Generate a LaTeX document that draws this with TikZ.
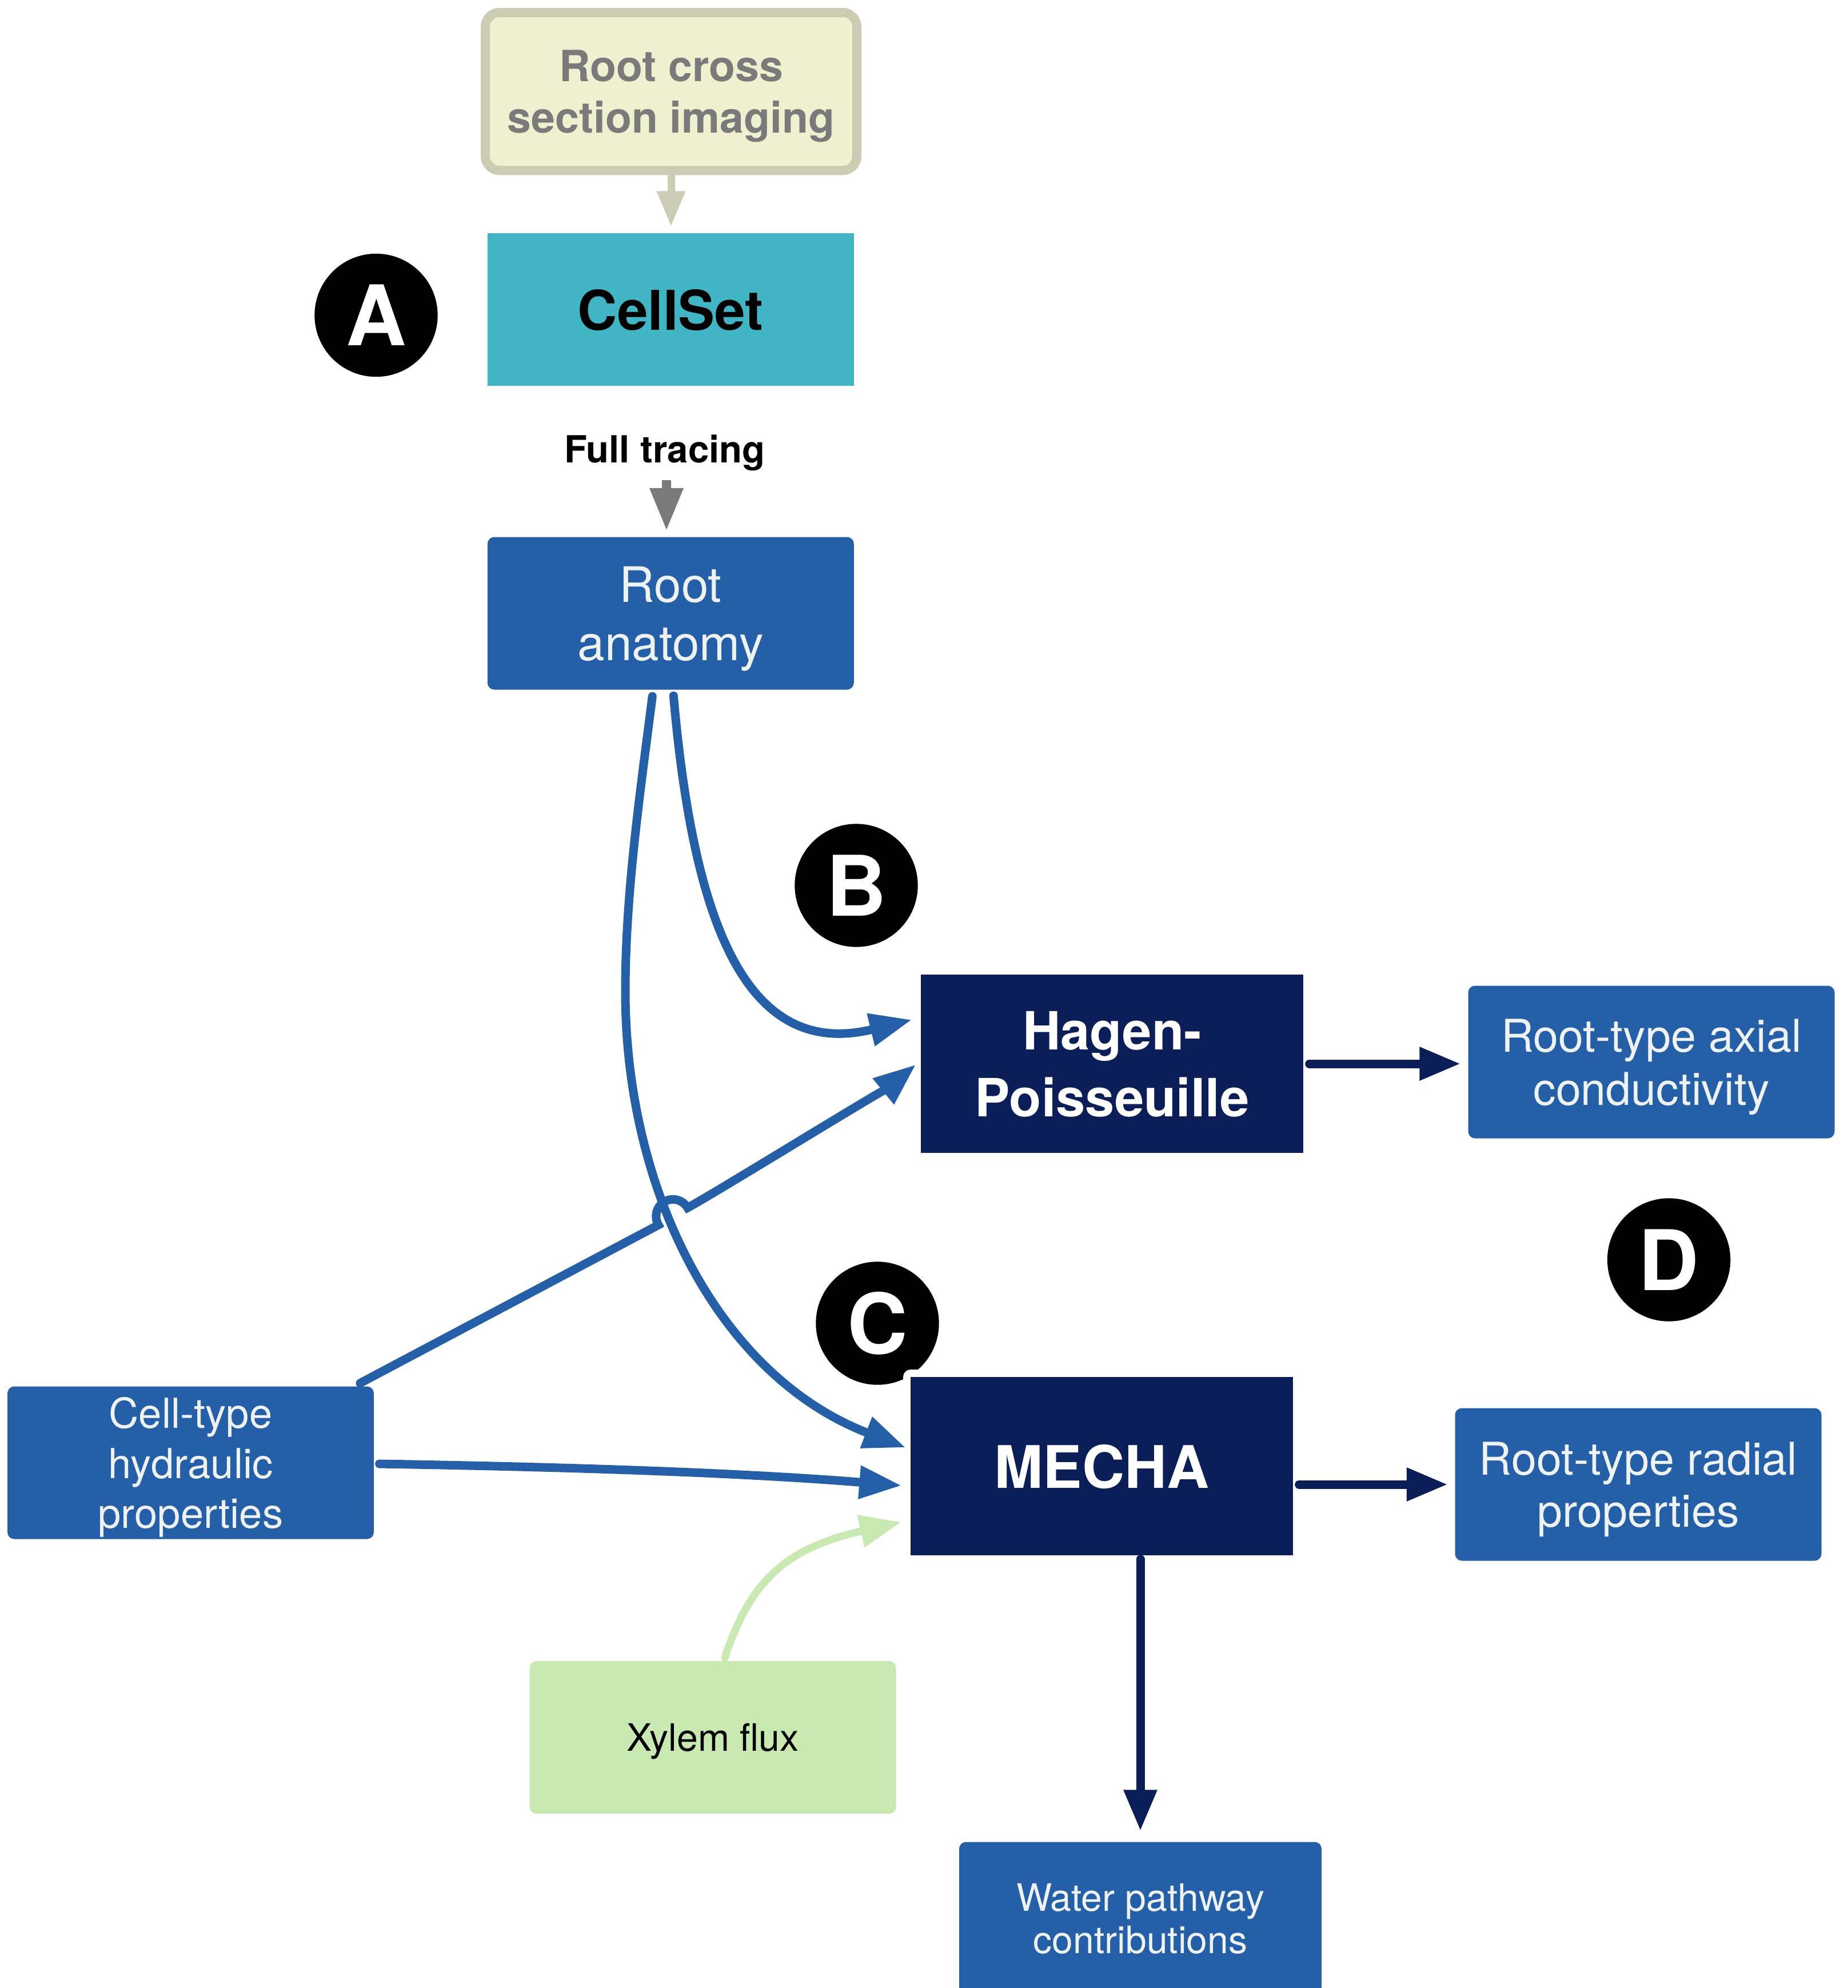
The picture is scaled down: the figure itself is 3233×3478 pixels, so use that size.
\documentclass[tikz,border=0pt]{standalone}
\usepackage{fontspec}
\setmainfont{TeX Gyre Heros}
\usetikzlibrary{arrows.meta,calc}

\definecolor{beigefill}{RGB}{239,240,207}
\definecolor{beigeline}{RGB}{204,204,180}
\definecolor{greytext}{RGB}{122,122,122}
\definecolor{cellteal}{RGB}{66,181,197}
\definecolor{midblue}{RGB}{36,95,168}
\definecolor{darknavy}{RGB}{11,30,88}
\definecolor{paletext}{RGB}{238,242,242}
\definecolor{leafgreen}{RGB}{201,233,179}

\begin{document}
\begin{tikzpicture}[x=0.1mm,y=-0.1mm,
  box/.style={inner sep=0pt, align=center, text depth=0pt,
    minimum width=64.1mm, minimum height=26.7mm},
  bluebox/.style={box, fill=midblue, text=paletext, rounded corners=1.2mm},
  navybox/.style={box, fill=darknavy, text=white, minimum width=66.9mm, minimum height=31.2mm},
  badge/.style={circle, fill=black, text=white, minimum size=21.54mm, inner sep=0pt,
    font=\fontsize{41.6}{42}\selectfont\bfseries},
  bluearrow/.style={draw=midblue, line width=1.5mm, line cap=round,
    -{Triangle[length=7.4mm,width=5.5mm]}},
  navyarrow/.style={draw=darknavy, line width=1.5mm, line cap=round,
    -{Triangle[length=7.2mm,width=5.5mm]}},
  greenarrow/.style={draw=leafgreen, line width=1.3mm, line cap=round,
    -{Triangle[length=7.2mm,width=5.5mm]}},
]
\useasboundingbox (0,0) rectangle (3233,3478);

% panel badges
\node[badge] (badgeA) at (658,551.5) {A};
\node[badge] (badgeB) at (1498,1549) {B};
\node[badge] (badgeC) at (1535,2315) {C};
\node[badge] (badgeD) at (2919.6,2204) {D};

% boxes
\node[box, fill=beigefill, draw=beigeline, line width=1.6mm, rounded corners=2.5mm,
      minimum width=65mm, minimum height=27.65mm, text=greytext,
      font=\fontsize{21.4}{25.6}\selectfont\bfseries] (rootcross) at (1174,160)
      {Root cross\\section imaging};
\node[box, fill=cellteal, text=black, font=\fontsize{27.3}{30}\selectfont\bfseries]
      (cellset) at (1173.3,541.5) {CellSet};
\node[bluebox, font=\fontsize{24.3}{29}\selectfont] (anatomy) at (1173.3,1073)
      {Root\\anatomy};
\node[navybox, font=\fontsize{26.2}{33.3}\selectfont\bfseries] (hagen) at (1945.5,1861)
      {Hagen-\\Poisseuille};
\node[bluebox, font=\fontsize{22.5}{26.5}\selectfont] (axial) at (2889,1858)
      {Root-type axial\\conductivity};
\node[navybox, font=\fontsize{29.2}{30}\selectfont\bfseries,
      preaction={draw=white, line width=2.6mm, line join=round}] (mecha) at (1927.5,2565)
      {MECHA};
\node[bluebox, font=\fontsize{22.5}{25.9}\selectfont] (radial) at (2866,2597)
      {Root-type radial\\properties};
\node[bluebox, font=\fontsize{20.6}{24.8}\selectfont] (celltype) at (333.5,2559)
      {Cell-type\\hydraulic\\properties};
\node[box, fill=leafgreen, text=black, rounded corners=1.2mm,
      font=\fontsize{18.8}{22}\selectfont] (xylem) at (1247,3039.5) {Xylem flux};
\node[bluebox, minimum width=63.4mm, font=\fontsize{18.8}{21}\selectfont] (water) at (1995,3356)
      {Water pathway\\contributions};

% imaging to CellSet
\draw[draw=beigeline, line width=1.3mm, -{Triangle[length=6.2mm,width=4.7mm]},
      shorten >=1.1mm] (rootcross.south) -- (rootcross.south |- cellset.north);

% tracing step
\node[anchor=base, inner sep=0pt, font=\fontsize{18.6}{20}\selectfont\bfseries]
      (tracelabel) at (1163,809) {Full tracing};
\coordinate (tracestart) at (1166,840);
\draw[draw=greytext, line width=1.6mm, -{Triangle[length=7.5mm,width=5.5mm]},
      shorten >=1mm] (tracestart) -- (tracestart |- anatomy.north);

% anatomy to Hagen-Poisseuille
\draw[bluearrow] ([shift={(5,10)}]anatomy.south)
  .. controls (1213,1614) and (1305,1855) .. ([shift={(-15,-77)}]hagen.west);

% anatomy to MECHA
\coordinate (bend) at (1094,1734);
\draw[bluearrow] ([shift={(-32,11)}]anatomy.south)
  .. controls (1120,1386) and (1094,1564) .. (bend)
  .. controls (1094,2084) and (1258,2407) .. ([shift={(-8,-32.5)}]mecha.west);

% cell-type properties to Hagen-Poisseuille, hopping over the curve
\coordinate (hopstart) at (1152,2143);
\draw[bluearrow] ([shift={(296.5,-5)}]celltype.north) -- (hopstart)
  arc[start angle=149, end angle=330, radius=29.5]
  .. controls (1247,2089.5) and (1564,1894) .. ([shift={(-8,1.5)}]hagen.west);

% cell-type properties to MECHA
\draw[bluearrow] ([shift={(9,2)}]celltype.east)
  .. controls (963,2566) and (1278,2575) .. ([shift={(-15,34)}]mecha.west);

% xylem flux to MECHA
\draw[greenarrow] ([shift={(21,-5)}]xylem.north)
  .. controls (1314.5,2758.5) and (1382,2707) .. ([shift={(-16,98)}]mecha.west);

% outputs
\draw[navyarrow, shorten <=1mm, shorten >=1.25mm] (hagen.east) -- (hagen.east -| axial.west);
\draw[navyarrow, shorten <=1mm, shorten >=1.2mm] (mecha.east |- radial.west) -- (radial.west);
\draw[navyarrow, shorten <=0.6mm, shorten >=1.85mm] (mecha.south -| water.north) -- (water.north);
\end{tikzpicture}
\end{document}
